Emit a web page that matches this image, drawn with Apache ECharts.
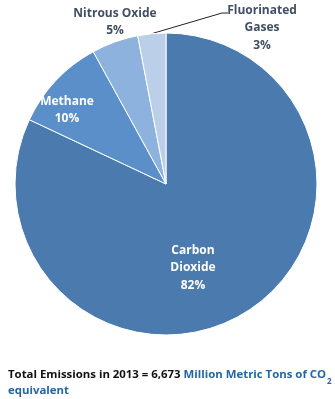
<!DOCTYPE html>
<html><head><meta charset="utf-8">
<script src="https://cdn.jsdelivr.net/npm/echarts@6/dist/echarts.min.js"></script>
<style>html,body{margin:0;padding:0;background:#fff}#c{width:335px;height:399px}</style>
</head><body><div id="c"></div>
<script>
var categories = ['Carbon\nDioxide', 'Methane', 'Nitrous Oxide', 'Fluorinated\nGases'];
var values = [82, 10, 5, 3];
var colors = ['#4a7aae', '#5a8fca', '#8cb2dd', '#bccfe8'];
var labelPos = [[193, 268], [67, 110], [115, 22], [262, 28]];
var ch = echarts.init(document.getElementById('c'));
var font = 'Open Sans';
ch.setOption({
  animation: false,
  title: {
    left: 3, top: 362,
    text: '{a|Total Emissions in 2013 = 6,673 }{b|Million Metric Tons of CO}{s|2}\n{b|equivalent}',
    textStyle: {
      rich: {
        a: {fontFamily: font, fontWeight: 'bold', fontSize: 11.4, color: '#111', lineHeight: 16},
        b: {fontFamily: font, fontWeight: 'bold', fontSize: 11.4, color: '#2467a3', lineHeight: 16},
        s: {fontFamily: font, fontWeight: 'bold', fontSize: 8, color: '#2467a3', padding: [14, 0, 0, 1], lineHeight: 16}
      }
    }
  },
  series: [{
    type: 'pie',
    center: [166, 184],
    radius: [0, 151],
    startAngle: 90,
    clockwise: true,
    avoidLabelOverlap: false,
    itemStyle: {borderColor: '#fff', borderWidth: 1},
    label: {
      formatter: function (p) { return p.name + '\n' + p.value + '%'; },
      fontFamily: font, fontWeight: 'bold', fontSize: 12, lineHeight: 17.5, align: 'center'
    },
    labelLayout: function (p) {
      var pos = labelPos[p.dataIndex];
      var r = {x: pos[0], y: pos[1], align: 'center', verticalAlign: 'middle'};
      if (p.dataIndex === 3 && p.labelLinePoints) {
        var s = p.labelLinePoints[0];
        r.labelLinePoints = [[s[0], s[1]], [222, 13], [228, 13]];
      }
      return r;
    },
    data: categories.map(function (n, i) {
      var d = {name: n, value: values[i], itemStyle: {color: colors[i]}};
      if (i < 2) {
        d.label = {position: 'inside', color: '#fff'};
      } else {
        d.label = {position: 'outside', color: '#414f63'};
        d.labelLine = {show: i === 3, length: 20, length2: 6, lineStyle: {color: '#222', width: 1}};
      }
      return d;
    })
  }]
});
</script></body></html>
